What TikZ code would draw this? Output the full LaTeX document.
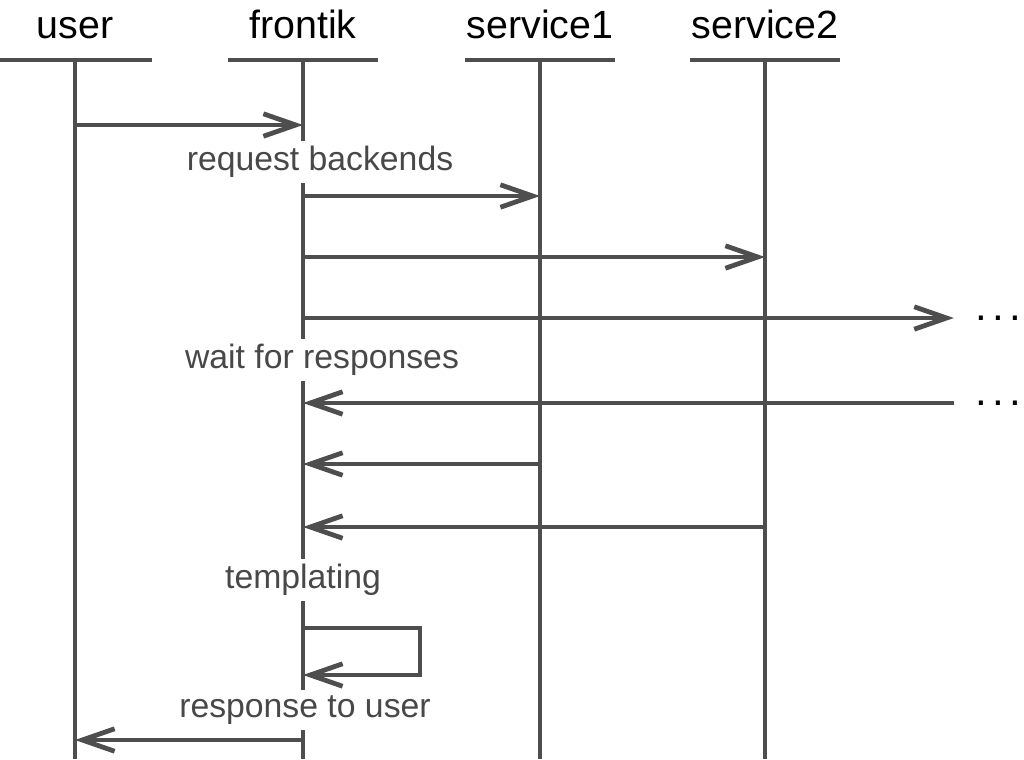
\documentclass[tikz,border=0pt]{standalone}
\usepackage{fontspec}
\setmainfont{Liberation Sans}
\usetikzlibrary{arrows.meta}
\definecolor{linegray}{RGB}{78,78,78}
\definecolor{labelgray}{RGB}{72,72,72}
\tikzset{
  actor/.style={font=\fontsize{28}{34}\selectfont, text=black, anchor=base},
  lane/.style={draw=linegray, line width=3.4pt},
  call/.style={lane, -{Straight Barb[length=23pt,width=16pt,line width=3.4pt]}},
  note/.style={font=\fontsize{24}{29}\selectfont, text=labelgray, fill=white, inner xsep=2pt, inner ysep=4pt},
  more/.style={font=\fontsize{30}{34}\selectfont, text=black, inner xsep=15pt, inner ysep=1pt}
}
\begin{document}
\begin{tikzpicture}[x=0.025cm, y=-0.025cm]
\useasboundingbox (0,0) rectangle (1024,759);
% actors
\node[actor] (user) at (75,38) {user};
\node[actor] (frontik) at (303,38) {frontik};
\node[actor] (service1) at (540,38) {service1};
\node[actor] (service2) at (765,38) {service2};
\draw[lane] (0,60) -- (152,60);
\draw[lane] (228,60) -- (378,60);
\draw[lane] (465,60) -- (615,60);
\draw[lane] (690,60) -- (840,60);
% lifelines
\draw[lane] (75,60) -- (75,759);
\draw[lane] (303,60) -- (303,759);
\draw[lane] (540,60) -- (540,759);
\draw[lane] (765,60) -- (765,759);
% labels
\node[note] (req) at (320,162) {request backends};
\node[note] (wait) at (322,360) {wait for responses};
\node[note] (tpl) at (303,580) {templating};
\node[note] (resp) at (305,710) {response to user};
\node[more] (more1) at (998,318) {.\kern3.7pt.\kern3.7pt.};
\node[more] (more2) at (998,403) {.\kern3.7pt.\kern3.7pt.};
% message points
\coordinate (u1) at (75,125);  \coordinate (f1) at (303,125);
\coordinate (f2) at (303,196); \coordinate (s12) at (540,196);
\coordinate (f3) at (303,257); \coordinate (s23) at (765,257);
\coordinate (f4) at (303,318);
\coordinate (f5) at (303,403);
\coordinate (f6) at (303,464); \coordinate (s16) at (540,464);
\coordinate (f7) at (303,527); \coordinate (s27) at (765,527);
\coordinate (f8) at (303,628); \coordinate (f9) at (303,675);
\coordinate (f10) at (303,740); \coordinate (u10) at (75,740);
% messages
\draw[call] (u1) -- (f1);
\draw[call] (f2) -- (s12);
\draw[call] (f3) -- (s23);
\draw[call] (f4) -- (more1.west);
\draw[call] (more2.west) -- (f5);
\draw[call] (s16) -- (f6);
\draw[call] (s27) -- (f7);
\draw[call] (f8) -| (420,675) -- (f9);
\draw[call] (f10) -- (u10);
\end{tikzpicture}
\end{document}
